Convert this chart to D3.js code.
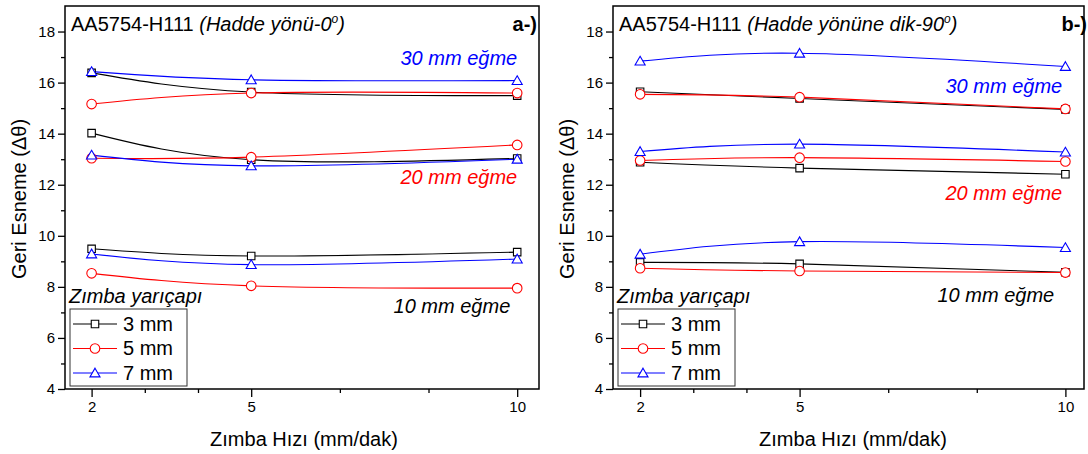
<!DOCTYPE html>
<html>
<head>
<meta charset="utf-8">
<script src="https://cdn.jsdelivr.net/npm/d3@7"></script>
<style>
  body { margin: 0; background: #fff; }
  svg { display: block; font-family: Arial, "Liberation Sans", sans-serif; }
</style>
</head>
<body>
<svg id="chart" width="1088" height="454"></svg>
<script>
// punch speed (mm/dak)
const speeds = [2, 5, 10];
const xMajor = [2, 5, 10];
const xMinor = [3, 4, 6.667, 8.333];
const yMajor = [4, 6, 8, 10, 12, 14, 16, 18];
const yMinor = [5, 7, 9, 11, 13, 15, 17];

// rows = 10, 20, 30 mm egme
// panel a-) Hadde yonu 0
const a_r3 = [[9.49, 9.21, 9.36], [14.02, 12.98, 13.03], [16.38, 15.63, 15.49]];
const a_r5 = [[8.53, 8.04, 7.95], [13.04, 13.08, 13.56], [15.16, 15.59, 15.59]];
const a_r7 = [[9.29, 8.87, 9.09], [13.16, 12.74, 13.00], [16.43, 16.11, 16.08]];
// panel b-) Hadde yonune dik 90
const b_r3 = [[8.96, 8.90, 8.57], [12.88, 12.65, 12.41], [15.64, 15.38, 14.95]];
const b_r5 = [[8.73, 8.62, 8.56], [12.95, 13.06, 12.91], [15.54, 15.43, 14.97]];
const b_r7 = [[9.28, 9.77, 9.54], [13.30, 13.59, 13.28], [16.84, 17.15, 16.63]];

const radii = ["3 mm", "5 mm", "7 mm"];
const colors = ["#000000", "#ff0000", "#0000ff"];
const symbols = [d3.symbolSquare, d3.symbolCircle, d3.symbolTriangle];
const symSize = [56, 72, 44];
const FONT = 'Arial, "Liberation Sans", sans-serif';

const svg = d3.select("#chart");

function drawPanel(opt) {
  const x = d3.scaleLinear().domain(opt.xdom).range([opt.left, opt.right]);
  const y = d3.scaleLinear().domain([4, 19]).range([389, 6]);
  const g = svg.append("g");

  // frame
  g.append("rect").attr("x", opt.left).attr("y", 6)
    .attr("width", opt.right - opt.left).attr("height", 383)
    .attr("fill", "none").attr("stroke", "#000").attr("stroke-width", 1.5);

  // y axis
  const ya = g.append("g").attr("transform", `translate(${opt.left},0)`)
    .call(d3.axisLeft(y).tickValues(yMajor).tickSize(7).tickPadding(3).tickFormat(d3.format("d")));
  ya.append("g").call(d3.axisLeft(y).tickValues(yMinor).tickSize(4).tickFormat(""));
  ya.selectAll("path.domain").remove();
  ya.selectAll("line").attr("stroke-width", 1.3);
  ya.attr("font-family", FONT).attr("font-size", 15);
  ya.selectAll("text").attr("fill", "#000");

  // x axis
  const xa = g.append("g").attr("transform", "translate(0,389)")
    .call(d3.axisBottom(x).tickValues(xMajor).tickSize(8).tickPadding(4).tickFormat(d3.format("d")));
  xa.append("g").call(d3.axisBottom(x).tickValues(xMinor).tickSize(4).tickFormat(""));
  xa.selectAll("path.domain").remove();
  xa.selectAll("line").attr("stroke-width", 1.3);
  xa.attr("font-family", FONT).attr("font-size", 15);
  xa.selectAll("text").attr("fill", "#000");

  // series
  const line = d3.line().x((d, i) => x(speeds[i])).y(d => y(d)).curve(d3.curveNatural);
  opt.series.forEach((rows, k) => {
    rows.forEach(vals => {
      g.append("path").attr("d", line(vals)).attr("fill", "none")
        .attr("stroke", colors[k]).attr("stroke-width", 1.1);
    });
  });
  opt.series.forEach((rows, k) => {
    rows.forEach(vals => {
      g.selectAll(null).data(vals).join("path")
        .attr("d", d3.symbol(symbols[k], symSize[k]))
        .attr("transform", (d, i) => `translate(${x(speeds[i])},${y(d) + (k === 2 ? 1 : 0)})`)
        .attr("fill", "#fff").attr("stroke", colors[k]).attr("stroke-width", 1.1);
    });
  });

  // title
  const t = g.append("text").attr("x", opt.left + 6).attr("y", 30.5).attr("font-size", 20);
  t.append("tspan").text("AA5754-H111 ");
  t.append("tspan").attr("font-style", "italic").text(opt.dir);
  t.append("tspan").attr("font-style", "italic").attr("font-size", 12).attr("dy", -8).text("o");
  t.append("tspan").attr("font-style", "italic").attr("dy", 8).text(")");

  g.append("text").attr("x", opt.labelX).attr("y", 30.5).attr("text-anchor", "end")
    .attr("font-size", 20).attr("font-weight", "bold").text(opt.label);

  // bending labels
  const egme = ["10 mm eğme", "20 mm eğme", "30 mm eğme"];
  const egmeCol = ["#000", "#ff0000", "#0000ff"];
  opt.egmePos.forEach((p, i) => {
    g.append("text").attr("x", x(p[0])).attr("y", y(p[1])).attr("text-anchor", "end")
      .attr("font-size", 20).attr("font-style", "italic").attr("fill", egmeCol[i]).text(egme[i]);
  });

  // axis titles
  g.append("text").attr("x", opt.xTitleX).attr("y", 446).attr("text-anchor", "middle")
    .attr("font-size", 20).text("Zımba Hızı (mm/dak)");
  g.append("text").attr("transform", `translate(${opt.left - 39},199) rotate(-90)`)
    .attr("text-anchor", "middle").attr("font-size", 20).text("Geri Esneme (Δθ)");

  // legend
  const lx = opt.left + 5;
  g.append("text").attr("x", lx - 1).attr("y", 303).attr("font-size", 20)
    .attr("font-style", "italic").text("Zımba yarıçapı");
  g.append("rect").attr("x", lx).attr("y", 309).attr("width", 117).attr("height", 77)
    .attr("fill", "#fff").attr("stroke", "#333").attr("stroke-width", 1);
  radii.forEach((r, k) => {
    const cy = 324 + k * 24.5;
    g.append("line").attr("x1", lx + 3).attr("x2", lx + 47).attr("y1", cy).attr("y2", cy)
      .attr("stroke", colors[k]).attr("stroke-width", 1.1);
    g.append("path").attr("d", d3.symbol(symbols[k], symSize[k]))
      .attr("transform", `translate(${lx + 25},${cy + (k === 2 ? 1 : 0)})`)
      .attr("fill", "#fff").attr("stroke", colors[k]).attr("stroke-width", 1.1);
    g.append("text").attr("x", lx + 53).attr("y", cy + 6.5).attr("font-size", 20).text(r);
  });
}

drawPanel({
  left: 65, right: 539, xdom: [1.5, 10.41],
  series: [a_r3, a_r5, a_r7],
  dir: "(Hadde yönü-0", label: "a-)", labelX: 537,
  egmePos: [[9.87, 6.99], [10.0, 12.03], [10.0, 16.70]],
  xTitleX: 304
});
drawPanel({
  left: 613, right: 1084, xdom: [1.49, 10.35],
  series: [b_r3, b_r5, b_r7],
  dir: "(Hadde yönüne dik-90", label: "b-)", labelX: 1087,
  egmePos: [[9.79, 7.42], [9.94, 11.41], [9.94, 15.61]],
  xTitleX: 853
});
</script>
</body>
</html>
